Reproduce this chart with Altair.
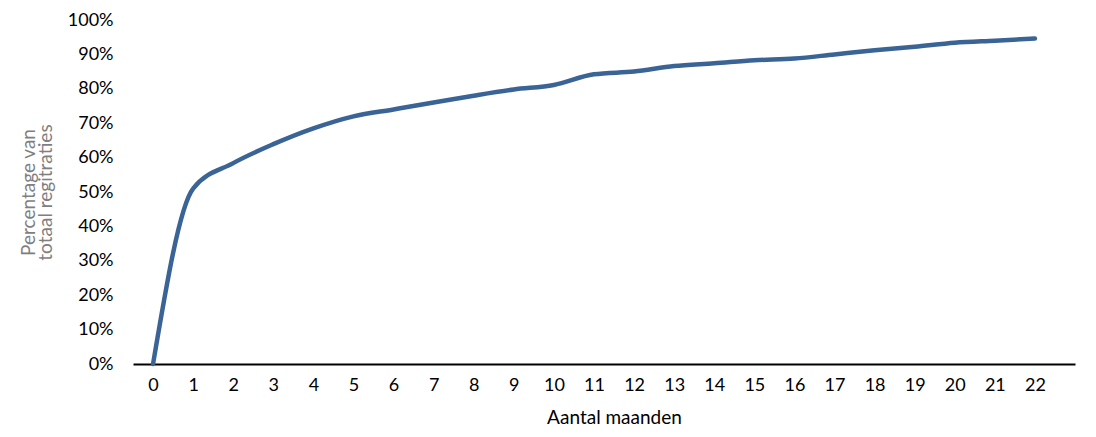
import altair as alt
import pandas as pd

months = list(range(0, 23))
share = [0.0, 0.51, 0.584, 0.639, 0.685, 0.72, 0.74, 0.76, 0.78, 0.798, 0.811,
         0.842, 0.85, 0.866, 0.874, 0.883, 0.888, 0.90, 0.912, 0.922, 0.934, 0.94, 0.946]

df = pd.DataFrame({"maand": months, "aandeel": share})

FONT = "Lato"

chart = alt.Chart(df).mark_line(
    interpolate="monotone", color="#3A6496", strokeWidth=4.5, strokeCap="round"
).encode(
    x=alt.X("maand:Q",
            scale=alt.Scale(domain=[-0.5, 23], nice=False, zero=False),
            axis=alt.Axis(values=months, format="d", title="Aantal maanden",
                          grid=False, ticks=False, domain=True, domainColor="#000000",
                          domainWidth=2, labelPadding=12, labelFontSize=18,
                          labelColor="#000000", labelFont=FONT, titleFont=FONT,
                          titleFontSize=19, titleFontWeight="normal", titleColor="#000000",
                          titlePadding=14, titleX=481)),
    y=alt.Y("aandeel:Q",
            scale=alt.Scale(domain=[0, 1], nice=False),
            axis=alt.Axis(values=[i / 10 for i in range(11)], format=".0%",
                          title=["Percentage van", "totaal regitraties"],
                          grid=False, ticks=False, domain=False, labelPadding=20,
                          labelFontSize=18, labelColor="#000000", labelFont=FONT,
                          titleFont=FONT, titleFontSize=19, titleFontWeight="normal",
                          titleColor="#7F7F7F", titlePadding=12, titleLineHeight=17)),
).properties(
    width=942, height=344,
    autosize=alt.AutoSizeParams(type="none"),
    padding={"left": 125, "top": 12, "right": 13, "bottom": 65},
).configure_view(stroke=None)

chart.save("out.html", embed_options={"renderer": "svg", "actions": False})
